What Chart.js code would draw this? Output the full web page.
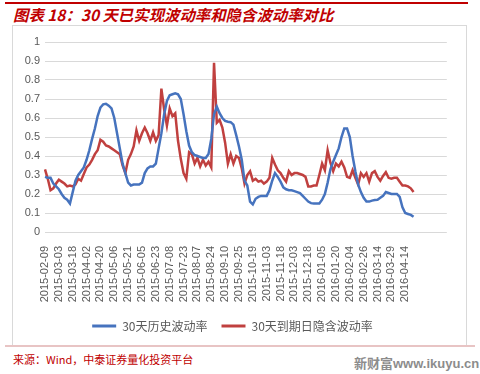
<!DOCTYPE html>
<html>
<head>
<meta charset="utf-8">
<script src="https://cdn.jsdelivr.net/npm/chart.js@4.4.1/dist/chart.umd.min.js"></script>
<style>
  body { margin: 0; background: #fff; width: 480px; height: 374px; position: relative; overflow: hidden;
         font-family: "Noto Sans CJK SC", "Noto Sans", sans-serif; }
  #topline { position: absolute; left: 5px; top: 2px; width: 463px; height: 2px; background: #C00000; }
  #title { position: absolute; left: 13px; top: 5px; font-size: 15.4px; font-weight: bold; font-style: italic;
           color: #C00000; white-space: nowrap; line-height: 18px; }
  #box { position: absolute; left: 12px; top: 25px; width: 453px; height: 319px; border: 1px solid #D9D9D9; border-bottom: none; }
  #bottomline { position: absolute; left: 5px; top: 345px; width: 470px; height: 2px; background: #E8C4C4; }
  #source { position: absolute; left: 13px; top: 351px; font-size: 11px; color: #C00000; white-space: nowrap; }
  #mark { position: absolute; left: 354px; top: 353px; font-size: 13px; font-weight: bold; color: #8C8C8C; white-space: nowrap;
          font-family: "Liberation Sans", "Noto Sans CJK SC", sans-serif; }
  canvas { position: absolute; left: 12px; top: 26px; }
</style>
</head>
<body>
<div id="topline"></div>
<div id="title">图表 18：30 天已实现波动率和隐含波动率对比</div>
<div id="box"></div>
<canvas id="myChart" width="454" height="319"></canvas>
<div id="bottomline"></div>
<div id="source">来源：Wind，中泰证券量化投资平台</div>
<div id="mark">新财富www.ikuyu.cn</div>
<script>
// tick labels on the date axis, one every 5 points
const dateTicks = ['2015-02-09', '2015-03-03', '2015-03-18', '2015-04-02', '2015-04-20', '2015-05-06',
    '2015-05-21', '2015-06-05', '2015-06-23', '2015-07-08', '2015-07-23', '2015-08-07', '2015-08-24',
    '2015-09-10', '2015-09-25', '2015-10-19', '2015-11-03', '2015-11-18', '2015-12-03', '2015-12-18',
    '2016-01-05', '2016-01-20', '2016-02-04', '2016-02-26', '2016-03-14', '2016-03-29', '2016-04-14'];
const pointsPerTick = 5;
const totalSlots = 146;

const seriesNames = ['30天历史波动率', '30天到期日隐含波动率'];

const histVol = [
    0.29, 0.285, 0.285, 0.255, 0.24, 0.225, 0.20, 0.18, 0.17, 0.15,
    0.21, 0.27, 0.30, 0.32, 0.34, 0.38, 0.43, 0.49, 0.545, 0.61,
    0.655, 0.672, 0.675, 0.665, 0.65, 0.60, 0.52, 0.44, 0.36, 0.31,
    0.26, 0.245, 0.25, 0.25, 0.25, 0.26, 0.31, 0.335, 0.345, 0.345,
    0.36, 0.44, 0.52, 0.62, 0.69, 0.72, 0.725, 0.73, 0.725, 0.70,
    0.62, 0.53, 0.455, 0.42, 0.405, 0.40, 0.395, 0.39, 0.39, 0.41,
    0.49, 0.62, 0.66, 0.625, 0.60, 0.585, 0.58, 0.578, 0.565, 0.51,
    0.45, 0.38, 0.27, 0.245, 0.16, 0.145, 0.175, 0.185, 0.19, 0.19,
    0.19, 0.22, 0.27, 0.31, 0.29, 0.265, 0.235, 0.225, 0.22, 0.22,
    0.215, 0.21, 0.205, 0.19, 0.175, 0.16, 0.152, 0.15, 0.15, 0.15,
    0.17, 0.20, 0.26, 0.33, 0.37, 0.405, 0.44, 0.50, 0.545, 0.545,
    0.50, 0.40, 0.32, 0.25, 0.21, 0.18, 0.16, 0.16, 0.165, 0.168,
    0.17, 0.18, 0.19, 0.21, 0.205, 0.20, 0.20, 0.20, 0.185, 0.13,
    0.10, 0.095, 0.09, 0.08
];

const impliedVol = [
    0.33, 0.28, 0.22, 0.23, 0.255, 0.275, 0.265, 0.255, 0.24, 0.245,
    0.24, 0.25, 0.28, 0.27, 0.305, 0.34, 0.355, 0.38, 0.41, 0.43,
    0.485, 0.475, 0.455, 0.45, 0.44, 0.43, 0.42, 0.41, 0.35, 0.31,
    0.38, 0.41, 0.45, 0.535, 0.48, 0.52, 0.55, 0.52, 0.48, 0.525,
    0.48, 0.51, 0.755, 0.645, 0.56, 0.65, 0.61, 0.625, 0.48, 0.385,
    0.31, 0.28, 0.42, 0.41, 0.36, 0.39, 0.345, 0.38, 0.35, 0.37,
    0.34, 0.89, 0.575, 0.59, 0.55, 0.47, 0.36, 0.41, 0.36, 0.40,
    0.39, 0.335, 0.255, 0.30, 0.32, 0.27, 0.28, 0.265, 0.27, 0.255,
    0.265, 0.285, 0.39, 0.355, 0.325, 0.31, 0.285, 0.265, 0.32, 0.30,
    0.31, 0.31, 0.305, 0.30, 0.29, 0.24, 0.24, 0.245, 0.245, 0.30,
    0.36, 0.325, 0.43, 0.365, 0.32, 0.36, 0.345, 0.37, 0.34, 0.29,
    0.285, 0.325, 0.285, 0.25, 0.31, 0.29, 0.31, 0.265, 0.31, 0.32,
    0.29, 0.27, 0.295, 0.315, 0.285, 0.28, 0.285, 0.285, 0.265, 0.245,
    0.245, 0.24, 0.23, 0.21
];

const labels = [];
for (let i = 0; i < totalSlots; i++) {
    const k = i / pointsPerTick;
    labels.push(i % pointsPerTick === 0 && k < dateTicks.length ? dateTicks[k] : '');
}

const ctx = document.getElementById('myChart').getContext('2d');
const myChart = new Chart(ctx, {
    type: 'line',
    data: {
        labels: labels,
        datasets: [{
            label: seriesNames[0],
            data: histVol,
            borderColor: '#4673BE',
            backgroundColor: '#4673BE',
            borderWidth: 2.5,
            pointRadius: 0,
            tension: 0
        }, {
            label: seriesNames[1],
            data: impliedVol,
            borderColor: '#C0403F',
            backgroundColor: '#C0403F',
            borderWidth: 2.5,
            pointRadius: 0,
            tension: 0
        }]
    },
    options: {
        responsive: false,
        animation: false,
        layout: { padding: { top: 16, right: 13, left: 0, bottom: 3 } },
        plugins: {
            legend: {
                position: 'bottom',
                labels: {
                    boxWidth: 24,
                    boxHeight: 3,
                    padding: 14,
                    color: '#595959',
                    font: { size: 12, family: '"Noto Sans CJK SC", sans-serif' },
                    generateLabels: (chart) => Chart.defaults.plugins.legend.labels.generateLabels(chart)
                        .map(item => Object.assign(item, { lineWidth: 0 }))
                }
            },
            tooltip: { enabled: false }
        },
        scales: {
            x: {
                grid: { display: false },
                border: { display: false },
                ticks: {
                    autoSkip: false,
                    minRotation: 90,
                    maxRotation: 90,
                    padding: 6,
                    color: '#595959',
                    font: { size: 11, family: '"Liberation Sans", Arial, sans-serif' }
                },
                afterFit: (scale) => { scale.height = 74; }
            },
            y: {
                min: 0,
                max: 1,
                grid: { color: '#D9D9D9', drawTicks: false },
                border: { display: false },
                ticks: {
                    stepSize: 0.1,
                    padding: 5,
                    color: '#595959',
                    font: { size: 11, family: '"Liberation Sans", Arial, sans-serif' },
                    callback: (v) => String(Math.round(v * 10) / 10)
                },
                afterFit: (scale) => { scale.width = 33; }
            }
        }
    }
});
</script>
</body>
</html>
